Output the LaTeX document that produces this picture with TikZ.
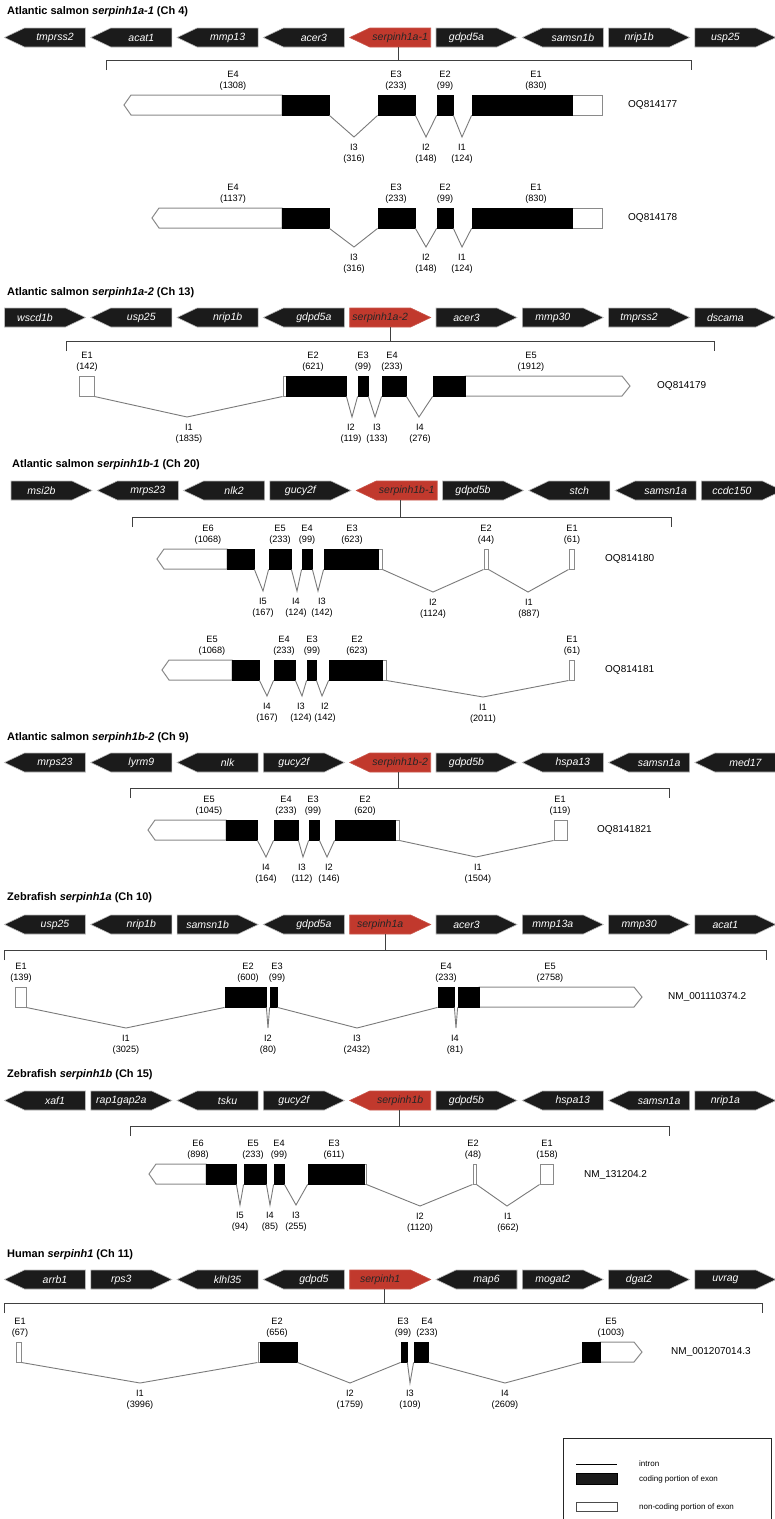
\documentclass[tikz,border=0pt]{standalone}
\usepackage{fontspec}
\setmainfont{Liberation Sans}
\usepackage{xcolor}
\usepackage{tikz}
\usetikzlibrary{positioning}

\definecolor{genedark}{HTML}{1B1B1B}
\definecolor{genered}{HTML}{C1392D}
\definecolor{utrgray}{HTML}{8A8A8A}
\definecolor{introngray}{HTML}{7A7A7A}

\tikzstyle{gene} = [fill=genedark, draw=gray!55, line width=0.6pt]
\tikzstyle{target} = [fill=genered, draw=genered!85!white, line width=0.6pt]
\tikzstyle{gene text} = [text=white, font=\fontsize{10.5}{12}\selectfont\itshape,
    inner sep=0pt, minimum height=19pt]
\tikzstyle{target text} = [gene text, text=black!85]
\tikzstyle{cds} = [draw=black, fill=black, line width=0.8pt, inner sep=0pt,
    minimum height=20pt]
\tikzstyle{utr} = [draw=utrgray, fill=white, line width=1pt, inner sep=0pt,
    minimum height=20pt]
\tikzstyle{intron} = [draw=introngray, line width=0.9pt]
\tikzstyle{bracket} = [draw=black!75, line width=1pt]
\tikzstyle{lbl} = [font=\fontsize{9.2}{10.5}\selectfont, align=center, inner sep=0pt]
\tikzstyle{title} = [font=\fontsize{11}{13}\selectfont\bfseries, anchor=west, inner sep=0pt]
\tikzstyle{acc} = [font=\fontsize{10}{12}\selectfont, anchor=west, inner sep=0pt]
\tikzstyle{legend} = [font=\fontsize{8}{10}\selectfont, anchor=west, inner sep=0pt]

% gene arrows: #1 left x, #2 top y, #3 name, #4 gene, #5 look
\newcommand{\geneL}[5]{%
  \draw[#5] (#1,#2+9.5) -- (#1+20,#2) -- (#1+81,#2) -- (#1+81,#2+19)
    -- (#1+20,#2+19) -- cycle;
  \node[#5 text] (#3) at (#1+50.5,#2+9.5) {#4};}
\newcommand{\geneR}[5]{%
  \draw[#5] (#1,#2) -- (#1+61,#2) -- (#1+81,#2+9.5) -- (#1+61,#2+19)
    -- (#1,#2+19) -- cycle;
  \node[#5 text] (#3) at (#1+30.5,#2+9.5) {#4};}
% one row of nine genes, the fifth one is the serpin
\newcommand{\generow}[4]{%
  \foreach \g/\dir [count=\i from 0] in {#4} {%
    \pgfmathsetmacro\gx{#2+86.3*\i}
    \ifnum\i=4
      \csname gene\dir\endcsname{\gx}{#1}{#3-\i}{\g}{target}
    \else
      \csname gene\dir\endcsname{\gx}{#1}{#3-\i}{\g}{gene}
    \fi}}
% bracket under a row: #1 serpin node, #2 tick shift, #3 left, #4 right, #5 y
\newcommand{\bracket}[5]{%
  \coordinate (#1-b) at (0,#5);
  \draw[bracket] (#3,#5+10) -- (#3,#5) -- (#4,#5) -- (#4,#5+10);
  \draw[bracket] ([xshift=#2pt]#1.south) -- ([xshift=#2pt]#1.south |- #1-b);}
% exon pieces: #1 name, #2 from x, #3 to x, #4 top y
\newcommand{\cdsbox}[4]{%
  \pgfmathsetmacro\w{#3-#2}
  \node[cds, minimum width=\w pt] (#1) at ({(#2+#3)/2},#4+10) {};}
\newcommand{\utrbox}[4]{%
  \pgfmathsetmacro\w{#3-#2}
  \node[utr, minimum width=\w pt] (#1) at ({(#2+#3)/2},#4+10) {};}
\newcommand{\utrleft}[3]{%
  \draw[utr] (#1,#3+10) -- (#1+7,#3) -- (#2,#3) -- (#2,#3+20) -- (#1+7,#3+20) -- cycle;}
\newcommand{\utrright}[3]{%
  \draw[utr] (#1,#3) -- (#2-8,#3) -- (#2,#3+10) -- (#2-8,#3+20) -- (#1,#3+20) -- cycle;}
% intron: from #1 to #2, dip at (#3,#4), label at x #5
\newcommand{\intron}[7]{%
  \draw[intron] (#1.south east) -- (#3,#4) -- (#2.south west);
  \node[lbl, anchor=north] at (#5,#4+7) {#6\\(#7)};}
\newcommand{\exlabel}[4]{\node[lbl, anchor=south] at (#1,#2-4.5) {#3\\(#4)};}

\begin{document}
\begin{tikzpicture}[x=1pt, y=-1pt]
  \useasboundingbox (0,0) rectangle (775,1519);
  \fill[white] (0,0) rectangle (775,1519);
  \clip (0,0) rectangle (775,1519);

  % Atlantic salmon serpinh1a-1
  \node[title] (t1) at (7,12) {Atlantic salmon \textit{serpinh1a-1} (Ch 4)};
  \generow{28}{4.5}{r1}{tmprss2/L, acat1/L, mmp13/L, acer3/L, serpinh1a-1/L,
    gdpd5a/R, samsn1b/L, nrip1b/R, usp25/R}
  \bracket{r1-4}{-2}{106}{691}{60}
  \foreach \top/\tip/\len/\acc/\dip in {95/124/1308/OQ814177/137,
      208/152/1137/OQ814178/247} {
    \utrleft{\tip}{282}{\top}
    \cdsbox{a4}{282}{329}{\top}
    \cdsbox{a3}{378}{415}{\top}
    \cdsbox{a2}{437}{453}{\top}
    \utrbox{a1u}{572}{602}{\top}
    \cdsbox{a1}{472}{572}{\top}
    \intron{a4}{a3}{354}{\dip}{354}{I3}{316}
    \intron{a3}{a2}{426}{\dip}{426}{I2}{148}
    \intron{a2}{a1}{462}{\dip}{462}{I1}{124}
    \exlabel{233}{\top}{E4}{\len}
    \exlabel{396}{\top}{E3}{233}
    \exlabel{445}{\top}{E2}{99}
    \exlabel{536}{\top}{E1}{830}
    \node[acc] (acc-\acc) at (628,\top+10) {\acc};
  }

  % Atlantic salmon serpinh1a-2
  \node[title] (t2) at (7,293) {Atlantic salmon \textit{serpinh1a-2} (Ch 13)};
  \generow{308}{4.5}{r2}{wscd1b/R, usp25/L, nrip1b/L, gdpd5a/L, serpinh1a-2/R,
    acer3/R, mmp30/R, tmprss2/R, dscama/R}
  \bracket{r2-4}{10}{66}{714}{341}
  \utrbox{b1}{79}{94}{376}
  \utrbox{b2u}{283}{286}{376}
  \cdsbox{b2}{286}{346}{376}
  \cdsbox{b3}{358}{368}{376}
  \cdsbox{b4}{382}{406}{376}
  \utrright{465}{630}{376}
  \cdsbox{b5}{433}{465}{376}
  \intron{b1}{b2u}{187}{417}{189}{I1}{1835}
  \intron{b2}{b3}{352}{417}{351}{I2}{119}
  \intron{b3}{b4}{375}{417}{377}{I3}{133}
  \intron{b4}{b5}{419}{417}{420}{I4}{276}
  \exlabel{87}{376}{E1}{142}
  \exlabel{313}{376}{E2}{621}
  \exlabel{363}{376}{E3}{99}
  \exlabel{392}{376}{E4}{233}
  \exlabel{531}{376}{E5}{1912}
  \node[acc] (acc3) at (657,386) {OQ814179};

  % Atlantic salmon serpinh1b-1
  \node[title] (t3) at (12,465) {Atlantic salmon \textit{serpinh1b-1} (Ch 20)};
  \generow{481}{11}{r3}{msi2b/R, mrps23/L, nlk2/L, gucy2f/R, serpinh1b-1/L,
    gdpd5b/R, stch/L, samsn1a/L, ccdc150/R}
  \bracket{r3-4}{-6}{132}{671}{517}
  \utrleft{157}{227}{549}
  \cdsbox{c6}{227}{254}{549}
  \cdsbox{c5}{269}{291}{549}
  \cdsbox{c4}{302}{312}{549}
  \utrbox{c3u}{378}{382}{549}
  \cdsbox{c3}{324}{378}{549}
  \utrbox{c2}{484}{488}{549}
  \utrbox{c1}{569}{574}{549}
  \intron{c6}{c5}{263}{591}{263}{I5}{167}
  \intron{c5}{c4}{297}{591}{296}{I4}{124}
  \intron{c4}{c3}{318}{591}{322}{I3}{142}
  \intron{c3u}{c2}{433}{592}{433}{I2}{1124}
  \intron{c2}{c1}{528}{592}{529}{I1}{887}
  \exlabel{208}{549}{E6}{1068}
  \exlabel{280}{549}{E5}{233}
  \exlabel{307}{549}{E4}{99}
  \exlabel{352}{549}{E3}{623}
  \exlabel{486}{549}{E2}{44}
  \exlabel{572}{549}{E1}{61}
  \node[acc] (acc4) at (605,559) {OQ814180};

  \utrleft{162}{232}{660}
  \cdsbox{d5}{232}{259}{660}
  \cdsbox{d4}{274}{295}{660}
  \cdsbox{d3}{307}{316}{660}
  \utrbox{d2u}{382}{386}{660}
  \cdsbox{d2}{329}{382}{660}
  \utrbox{d1}{569}{574}{660}
  \intron{d5}{d4}{267}{696}{267}{I4}{167}
  \intron{d4}{d3}{302}{696}{301}{I3}{124}
  \intron{d3}{d2}{322}{696}{325}{I2}{142}
  \intron{d2u}{d1}{483}{697}{483}{I1}{2011}
  \exlabel{212}{660}{E5}{1068}
  \exlabel{284}{660}{E4}{233}
  \exlabel{312}{660}{E3}{99}
  \exlabel{357}{660}{E2}{623}
  \exlabel{572}{660}{E1}{61}
  \node[acc] (acc5) at (605,670) {OQ814181};

  % Atlantic salmon serpinh1b-2
  \node[title] (t4) at (7,738) {Atlantic salmon \textit{serpinh1b-2} (Ch 9)};
  \generow{753}{4.5}{r4}{mrps23/L, lyrm9/L, nlk/L, gucy2f/R, serpinh1b-2/L,
    gdpd5b/R, hspa13/L, samsn1a/L, med17/L}
  \bracket{r4-4}{-2}{130}{669}{788}
  \utrleft{148}{226}{820}
  \cdsbox{e5}{226}{257}{820}
  \cdsbox{e4}{274}{298}{820}
  \cdsbox{e3}{309}{319}{820}
  \utrbox{e2u}{395}{399}{820}
  \cdsbox{e2}{335}{395}{820}
  \utrbox{e1}{554}{567}{820}
  \intron{e5}{e4}{266}{857}{266}{I4}{164}
  \intron{e4}{e3}{303}{857}{302}{I3}{112}
  \intron{e3}{e2}{327}{857}{329}{I2}{146}
  \intron{e2u}{e1}{476}{857}{478}{I1}{1504}
  \exlabel{209}{820}{E5}{1045}
  \exlabel{286}{820}{E4}{233}
  \exlabel{313}{820}{E3}{99}
  \exlabel{365}{820}{E2}{620}
  \exlabel{560}{820}{E1}{119}
  \node[acc] (acc6) at (597,830) {OQ8141821};

  % Zebrafish serpinh1a
  \node[title] (t5) at (7,898) {Zebrafish \textit{serpinh1a} (Ch 10)};
  \generow{915}{4.5}{r5}{usp25/L, nrip1b/L, samsn1b/R, gdpd5a/L, serpinh1a/R,
    acer3/R, mmp13a/R, mmp30/R, acat1/R}
  \bracket{r5-4}{5}{4}{766}{950}
  \utrbox{f1}{15}{26}{987}
  \cdsbox{f2}{225}{266}{987}
  \cdsbox{f3}{270}{277}{987}
  \cdsbox{f4}{438}{454}{987}
  \utrright{479}{642}{987}
  \cdsbox{f5}{458}{479}{987}
  \intron{f1}{f2}{126}{1028}{126}{I1}{3025}
  \intron{f2}{f3}{268}{1028}{268}{I2}{80}
  \intron{f3}{f4}{357}{1028}{357}{I3}{2432}
  \intron{f4}{f5}{456}{1028}{455}{I4}{81}
  \exlabel{21}{987}{E1}{139}
  \exlabel{248}{987}{E2}{600}
  \exlabel{277}{987}{E3}{99}
  \exlabel{446}{987}{E4}{233}
  \exlabel{550}{987}{E5}{2758}
  \node[acc] (acc7) at (668,997) {NM\_001110374.2};

  % Zebrafish serpinh1b
  \node[title] (t6) at (7,1075) {Zebrafish \textit{serpinh1b} (Ch 15)};
  \generow{1091}{4.5}{r6}{xaf1/L, rap1gap2a/R, tsku/L, gucy2f/R, serpinh1b/L,
    gdpd5b/R, hspa13/L, samsn1a/L, nrip1a/R}
  \bracket{r6-4}{-1}{130}{669}{1126}
  \utrleft{149}{206}{1164}
  \cdsbox{g6}{206}{236}{1164}
  \cdsbox{g5}{244}{266}{1164}
  \cdsbox{g4}{274}{284}{1164}
  \utrbox{g3u}{364}{366}{1164}
  \cdsbox{g3}{308}{364}{1164}
  \utrbox{g2}{473}{476}{1164}
  \utrbox{g1}{540}{553}{1164}
  \intron{g6}{g5}{240}{1205}{240}{I5}{94}
  \intron{g5}{g4}{270}{1205}{270}{I4}{85}
  \intron{g4}{g3}{296}{1205}{296}{I3}{255}
  \intron{g3u}{g2}{420}{1206}{420}{I2}{1120}
  \intron{g2}{g1}{507}{1206}{508}{I1}{662}
  \exlabel{198}{1164}{E6}{898}
  \exlabel{253}{1164}{E5}{233}
  \exlabel{279}{1164}{E4}{99}
  \exlabel{334}{1164}{E3}{611}
  \exlabel{473}{1164}{E2}{48}
  \exlabel{547}{1164}{E1}{158}
  \node[acc] (acc8) at (584,1175) {NM\_131204.2};

  % Human serpinh1
  \node[title] (t7) at (7,1255) {Human \textit{serpinh1} (Ch 11)};
  \generow{1270}{4.5}{r7}{arrb1/L, rps3/R, klhl35/L, gdpd5/L, serpinh1/R,
    map6/L, mogat2/R, dgat2/R, uvrag/R}
  \bracket{r7-4}{4}{4}{762}{1303}
  \utrbox{h1}{16}{21}{1342}
  \utrbox{h2u}{258}{260}{1342}
  \cdsbox{h2}{260}{297}{1342}
  \cdsbox{h3}{401}{407}{1342}
  \cdsbox{h4}{414}{428}{1342}
  \utrright{600}{642}{1342}
  \cdsbox{h5}{582}{600}{1342}
  \intron{h1}{h2u}{140}{1383}{140}{I1}{3996}
  \intron{h2}{h3}{350}{1383}{350}{I2}{1759}
  \intron{h3}{h4}{410}{1383}{410}{I3}{109}
  \intron{h4}{h5}{505}{1383}{505}{I4}{2609}
  \exlabel{20}{1342}{E1}{67}
  \exlabel{277}{1342}{E2}{656}
  \exlabel{403}{1342}{E3}{99}
  \exlabel{427}{1342}{E4}{233}
  \exlabel{611}{1342}{E5}{1003}
  \node[acc] (acc9) at (671,1352) {NM\_001207014.3};

  % Legend
  \draw[black!85, line width=0.8pt] (563,1438) rectangle (771,1535);
  \coordinate (li-a) at (576,1464);
  \coordinate (li-b) at (617,1464);
  \draw[black, line width=1pt] (li-a) -- (li-b);
  \node[legend] (lg1) at (639,1464) {intron};
  \draw[fill=genedark, draw=black] (576,1473) rectangle (617,1484);
  \node[legend] (lg2) at (639,1479) {coding portion of exon};
  \draw[fill=white, draw=black!70] (576,1502) rectangle (617,1511);
  \node[legend] (lg3) at (639,1507) {non-coding portion of exon};
\end{tikzpicture}
\end{document}
